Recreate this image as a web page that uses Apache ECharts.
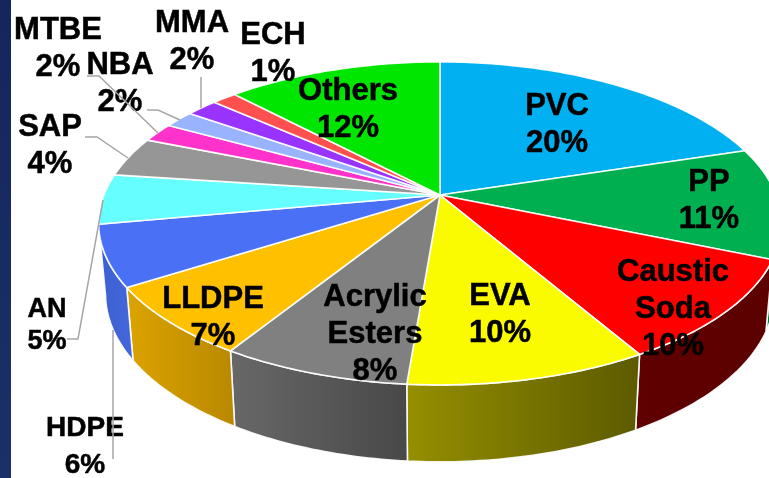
<!DOCTYPE html>
<html><head><meta charset="utf-8">
<style>html,body{margin:0;padding:0;background:#fff}#c{width:769px;height:478px}</style>
<script src="https://cdn.jsdelivr.net/npm/echarts@6/dist/echarts.min.js"></script>
</head><body><div id="c"></div>
<script>
const categories = ['PVC','PP','Caustic\nSoda','EVA','Acrylic\nEsters','LLDPE','HDPE','AN','SAP','MTBE','NBA','MMA','ECH','Others'];
const shares = [20.2,11.1,10.3,9.7,7.6,7.1,6.1,5.0,4.0,1.9,1.7,1.8,1.4,12.1];
const topColors = ['#00b0f0','#00b050','#ff0000','#fafa00','#808080','#ffc000','#4a70f5','#66ffff','#969696','#ff33cc','#99b3ff','#9933ff','#ff5050','#00e600'];
const rimColors = [null,['#007a38','#007a38'],['#600000','#5c0000'],['#958f00','#5c5a00'],['#686868','#484848'],['#dca400','#b88800'],['#3c5fd0','#4468dc'],null,null,null,null,null,null,null];
const labelCenters = [[557,125],[709,201],[673,309],[500,315],[375,334],[213,318],[85,447],[47,326],[50,146],[58,49],[120,84],[192,42],[273,54],[348,110]];
const labelSizes = [31,31,31,31,31,31,28,27,31,31,31,31,31,31];
const labelLines = [37,37,37,37,37,37,37,32,37,37,37,37,37,37];
const leaders = [
  [[113,459],[113,330]],
  [[67,339],[78,339],[103,200]],
  [[85,137],[97,137],[128,158]],
  [[87,76],[99,76],[158,133]],
  [[147,110],[158,110],[180,120]],
  [[201,77],[201,108]]
];
const apex = [440,195], R = 336, Rv = 156.5, K = 0.176;

function topPoint(t){
  const u = Math.sin(t), v = -Math.cos(t), d = 1 - K*v;
  return [apex[0] + R*u/d, apex[1] + Rv*v/d];
}
function basePoint(t){
  const p = topPoint(t);
  return [apex[0] + (p[0]-apex[0])*0.98, p[1] + 73 + (p[1]-287)*0.04];
}
function arc(fn,a,b){
  const n = Math.max(4, Math.ceil(Math.abs(b-a)*60)), out = [];
  for(let i=0;i<=n;i++) out.push(fn(a+(b-a)*i/n));
  return out;
}
const total = shares.reduce((s,v)=>s+v,0);
function renderItem(params, api){
  const i = params.dataIndex;
  let before = 0;
  for(let k=0;k<i;k++) before += shares[k];
  const a = before/total*2*Math.PI, b = (before+api.value(0))/total*2*Math.PI;
  const stroke = {stroke:'rgba(255,255,255,0.92)', lineWidth:1.6, lineJoin:'round'};
  const children = [];
  if(rimColors[i]){
    children.push({type:'polygon', z2:1,
      shape:{points:arc(topPoint,a,b).concat(arc(basePoint,b,a))},
      style:Object.assign({fill:{type:'linear',x:0,y:0,x2:1,y2:0,colorStops:[
        {offset:0,color:rimColors[i][0]},{offset:1,color:rimColors[i][1]}]}},stroke)});
  }
  children.push({type:'polygon', z2:2,
    shape:{points:[apex].concat(arc(topPoint,a,b))},
    style:Object.assign({fill:topColors[i]},stroke)});
  const fs = labelSizes[i];
  children.push({type:'text', z2:10,
    style:{text:categories[i]+'\n'+Math.round(api.value(0))+'%',
      x:labelCenters[i][0], y:labelCenters[i][1],
      align:'center', verticalAlign:'middle',
      fontFamily:'"Liberation Sans",Arial,sans-serif', fontWeight:'bold', fontSize:fs,
      lineHeight:labelLines[i], fill:'#000', stroke:'#000', lineWidth:0.5}});
  return {type:'group', children};
}
const graphicEls = [{type:'rect', z:0, shape:{x:0,y:0,width:11,height:478},
  style:{fill:{type:'linear',x:0,y:0,x2:0,y2:1,colorStops:[{offset:0,color:'#14265c'},{offset:1,color:'#1c2f68'}]}}}]
 .concat(leaders.map(p=>({type:'polyline', z:20, shape:{points:p}, style:{stroke:'#a6a6a6',lineWidth:1.5,fill:null}})));
const chart = echarts.init(document.getElementById('c'), null, {renderer:'canvas'});
chart.setOption({
  animation:false,
  backgroundColor:'#fff',
  graphic:{elements:graphicEls},
  series:[{type:'custom', coordinateSystem:'none', renderItem,
    data:shares.map((v,i)=>({name:categories[i].replace('\n',' '), value:[v]}))}]
});
</script></body></html>
